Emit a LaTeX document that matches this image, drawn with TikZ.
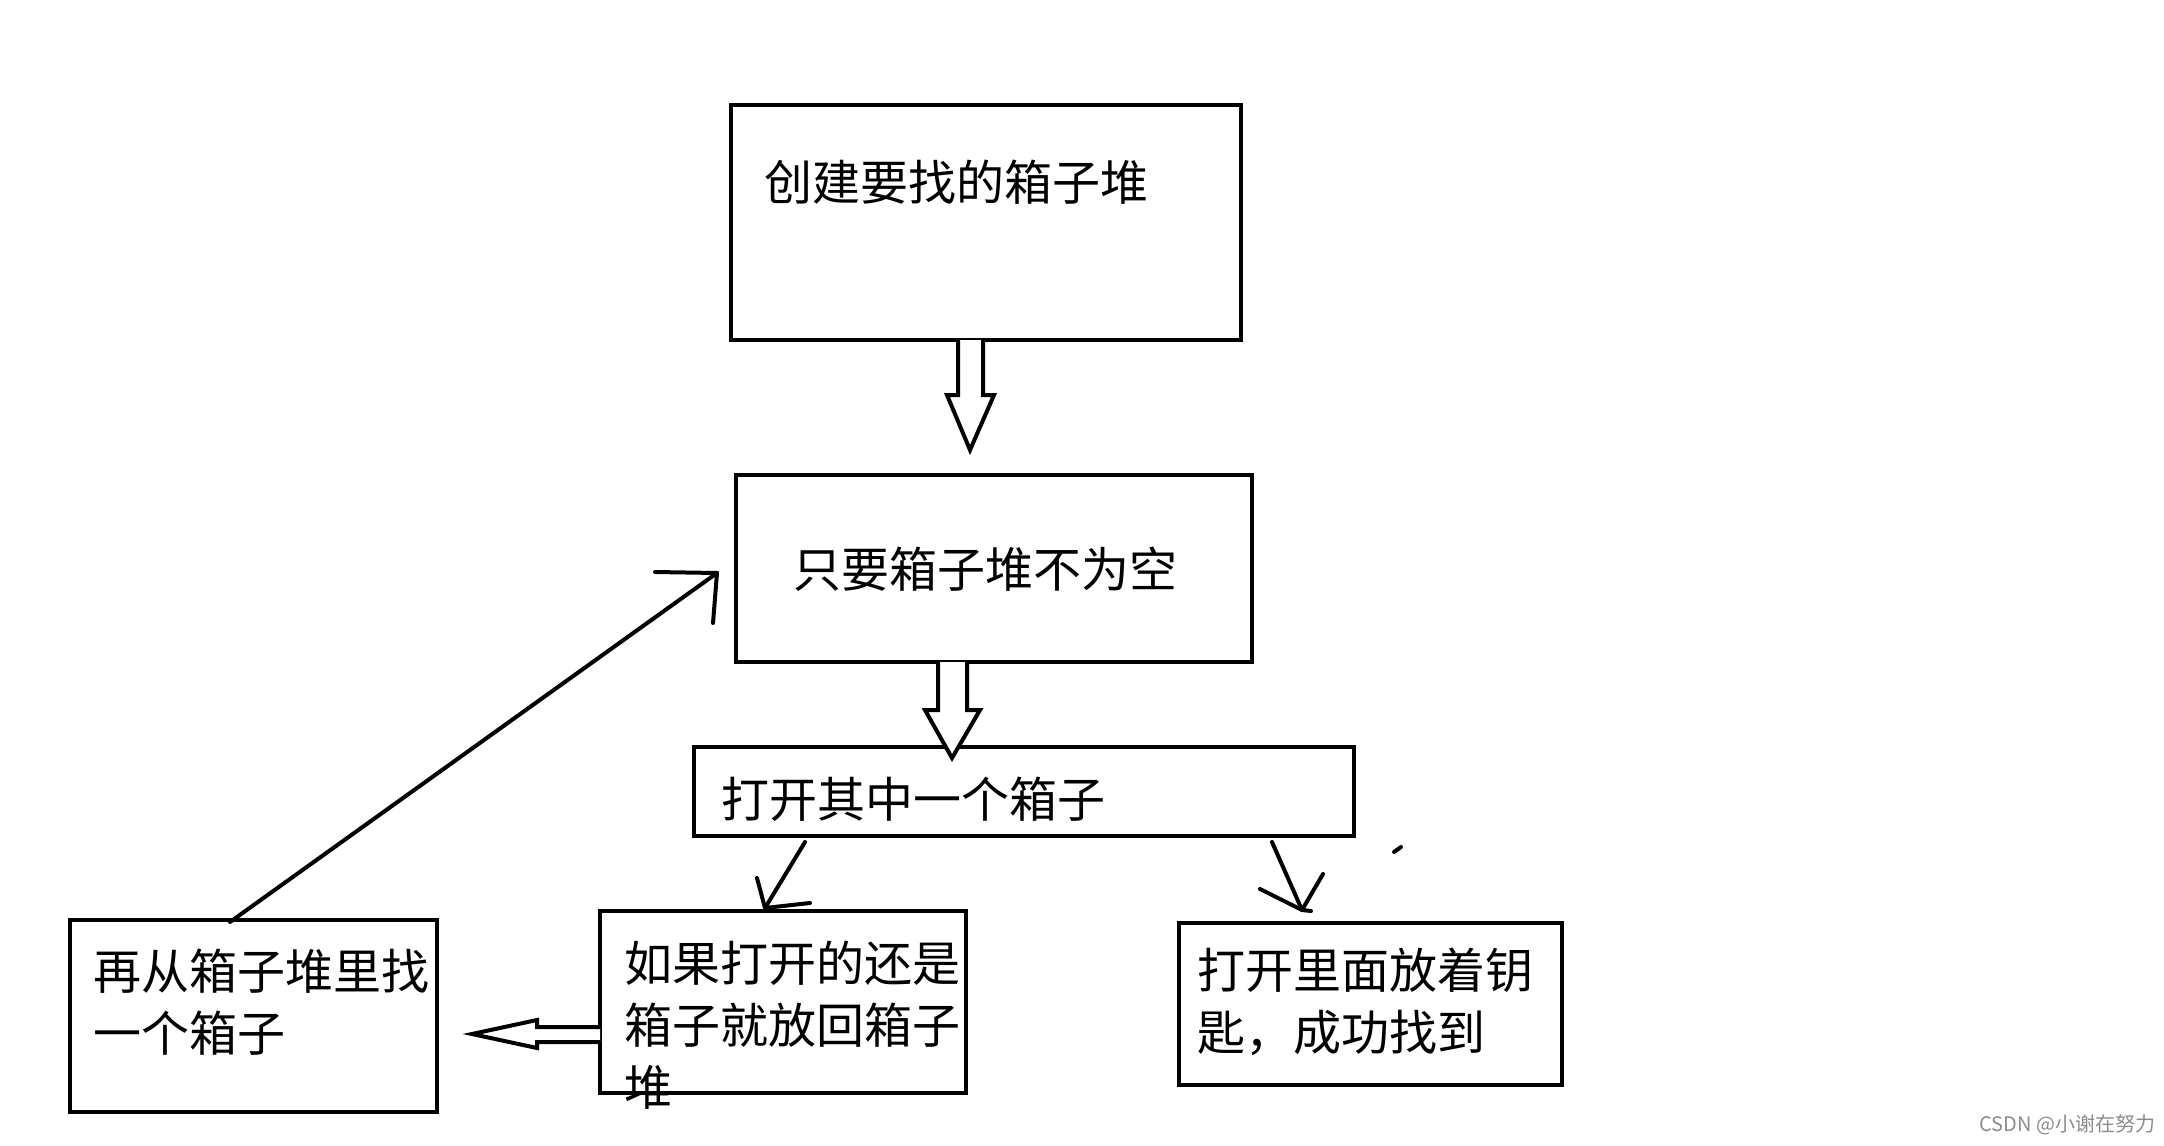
\documentclass[tikz,border=0pt]{standalone}
\usepackage{fontspec}
\setmainfont{Noto Sans CJK SC}
\usetikzlibrary{calc}
\begin{document}
\begin{tikzpicture}[x=1pt,y=-1pt,line width=4pt,
  box/.style={draw,rectangle,inner sep=0pt,outer sep=0pt},
  txt/.style={anchor=west,inner sep=0pt,align=left,font=\fontsize{48}{62}\selectfont},
  hollow/.style={draw,line join=miter,fill=white},
  stroke/.style={line cap=round,line join=round}]
  \useasboundingbox (0,0) rectangle (2164,1146);
  % boxes
  \node[box,minimum width=510pt,minimum height=235pt] (create) at (986,222.5) {};
  \node[box,minimum width=516pt,minimum height=187pt] (loop) at (994,568.5) {};
  \node[box,minimum width=660pt,minimum height=89pt] (open) at (1024,791.5) {};
  \node[box,minimum width=366pt,minimum height=182pt] (again) at (783,1002) {};
  \node[box,minimum width=367pt,minimum height=192pt] (retry) at (253.5,1016) {};
  \node[box,minimum width=383pt,minimum height=162pt] (found) at (1370.5,1004) {};
  % texts
  \node[txt] (createtxt) at (762,182) {创建要找的箱子堆};
  \node[txt] (looptxt) at (791,569) {只要箱子堆不为空};
  \node[txt] (opentxt) at (719,799) {打开其中一个箱子};
  \node[txt] (againtxt) at (622,1025) {如果打开的还是\\箱子就放回箱子\\堆};
  \node[txt] (retrytxt) at (91,1002) {再从箱子堆里找\\一个箱子};
  \node[txt] (foundtxt) at (1195,1002) {打开里面放着钥\\匙，成功找到};
  \node[anchor=east,inner sep=0pt,text=black!45,font=\fontsize{20}{24}\selectfont] (mark) at (2157,1125) {CSDN @小谢在努力};
  % hollow arrows
  \draw[hollow] ($(create.south west)+(227,0)$) -- ++(0,55) -- ++(-11,0) -- ++(23,55)
    -- ++(24,-55) -- ++(-11,0) -- ++(0,-55);
  \draw[hollow] ($(loop.south west)+(202,0)$) -- ++(0,48) -- ++(-13,0) -- ++(27,48)
    -- ++(28,-48) -- ++(-13,0) -- ++(0,-48);
  \draw[hollow] ($(again.west)+(0,25)$) -- ++(-63,0) -- ++(0,-7) -- ++(-65,14)
    -- ++(65,14) -- ++(0,-6) -- ++(63,0);
  % hand drawn arrows
  \coordinate (looptip) at ($(loop.west)+(-19,4.5)$);
  \draw[stroke] ($(retry.north west)+(160,2)$) -- (looptip);
  \draw[stroke] (looptip) -- ++(-62,-1);
  \draw[stroke] (looptip) -- ++(-4,50);
  \coordinate (againtip) at ($(again.north west)+(165,-3)$);
  \draw[stroke] ($(open.south west)+(111,6)$) -- (againtip);
  \draw[stroke] (againtip) -- ++(-8,-30);
  \draw[stroke] (againtip) -- ++(45,-5);
  \coordinate (foundtip) at ($(found.north west)+(123,-13)$);
  \draw[stroke] ($(open.south east)+(-82,6)$) -- (foundtip) -- ++(9,1);
  \draw[stroke] (foundtip) -- ++(-42,-21);
  \draw[stroke] (foundtip) -- ++(21,-36);
  \draw[stroke] (1394,852) -- (1401,847);
\end{tikzpicture}
\end{document}
